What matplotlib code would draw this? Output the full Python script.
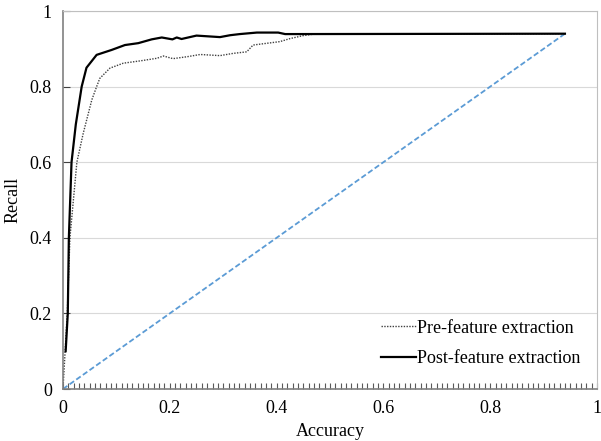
import matplotlib
matplotlib.use('Agg')
import matplotlib.pyplot as plt
from matplotlib.ticker import MultipleLocator

# Post-feature extraction (solid)
post_x = [0.005, 0.009, 0.011, 0.016, 0.024, 0.035, 0.044, 0.063, 0.091, 0.116,
          0.141, 0.166, 0.185, 0.205, 0.213, 0.222, 0.250, 0.294, 0.313, 0.331,
          0.363, 0.403, 0.416, 0.94]
post_y = [0.10, 0.20, 0.40, 0.60, 0.70, 0.80, 0.85, 0.884, 0.897, 0.910,
          0.915, 0.925, 0.930, 0.925, 0.930, 0.926, 0.935, 0.931, 0.936, 0.939,
          0.943, 0.943, 0.939, 0.94]

# Pre-feature extraction (dotted)
pre_x = [0.0, 0.008, 0.013, 0.026, 0.038, 0.054, 0.063, 0.069, 0.088, 0.113,
         0.144, 0.176, 0.188, 0.206, 0.232, 0.257, 0.294, 0.319, 0.344, 0.356,
         0.406, 0.425, 0.45, 0.475, 0.94]
pre_y = [0.0, 0.20, 0.40, 0.60, 0.677, 0.765, 0.80, 0.822, 0.849, 0.862,
         0.868, 0.875, 0.881, 0.874, 0.879, 0.885, 0.882, 0.888, 0.892, 0.910,
         0.919, 0.927, 0.935, 0.94, 0.94]

# reference diagonal
diag_x = [0.0, 0.94]
diag_y = [0.0, 0.94]

plt.rcParams['font.family'] = ['Liberation Serif', 'DejaVu Serif']

fig = plt.figure(figsize=(6.01, 4.41), dpi=100)
ax = fig.add_axes([0.1048, 0.1179, 0.8885, 0.8571])

ax.plot(diag_x, diag_y, color='#5B9BD5', linestyle=(0, (3, 1.5)), linewidth=1.3)
ax.plot(pre_x, pre_y, color='#404040', linestyle=(0, (1, 1)), linewidth=1.0,
        label='Pre-feature extraction')
ax.plot(post_x, post_y, color='black', linewidth=1.6,
        label='Post-feature extraction')

ax.set_xlim(0, 1)
ax.set_ylim(0, 1)
ax.xaxis.set_major_locator(MultipleLocator(0.2))
ax.xaxis.set_minor_locator(MultipleLocator(0.01))
ax.yaxis.set_major_locator(MultipleLocator(0.2))
ax.xaxis.set_major_formatter(plt.FuncFormatter(lambda v, p: '{:g}'.format(round(v, 1))))
ax.yaxis.set_major_formatter(plt.FuncFormatter(lambda v, p: '{:g}'.format(round(v, 1))))

ax.grid(True, axis='y', color='#D9D9D9', linewidth=0.8)
ax.set_axisbelow(True)

ax.tick_params(axis='x', which='both', direction='in', length=4, width=0.8,
               color='#595959', labelsize=13, pad=8)
ax.tick_params(axis='y', which='major', direction='in', length=5, width=0.8,
               color='#404040', labelsize=13, pad=8)

for side in ['top', 'right']:
    ax.spines[side].set_color('#BFBFBF')
for side in ['left', 'bottom']:
    ax.spines[side].set_color('#808080')
    ax.spines[side].set_linewidth(1.2)

ax.set_xlabel('Accuracy', fontsize=13, labelpad=4)
ax.set_ylabel('Recall', fontsize=13, labelpad=6)

ax.legend(loc='lower right', frameon=False, fontsize=13, handlelength=1.9,
          handletextpad=0.1, labelspacing=0.75, bbox_to_anchor=(1.0, 0.015))

fig.savefig('out.png', dpi=100)
